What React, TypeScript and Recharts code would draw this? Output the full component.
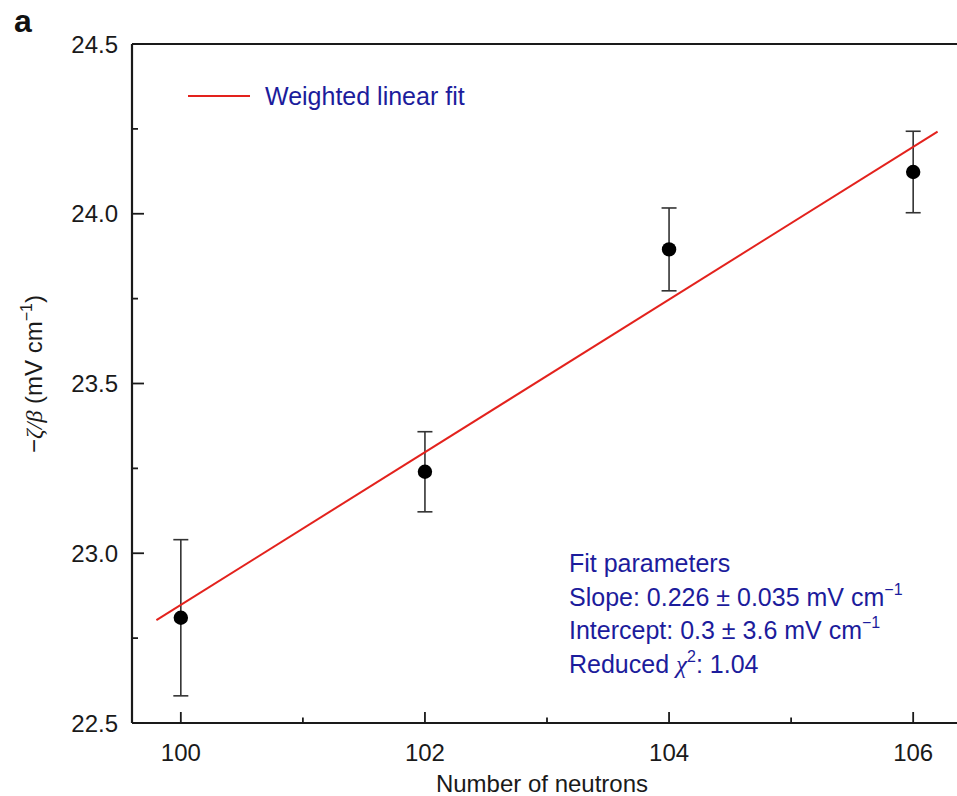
import React from 'react';
import { ComposedChart, Scatter, ErrorBar, XAxis, YAxis, ReferenceLine } from 'recharts';

// measured points
const neutrons = [100, 102, 104, 106];
const zetaOverBeta = [22.81, 23.24, 23.895, 24.123];
const errors = [0.23, 0.118, 0.122, 0.12];

// weighted linear fit, end points
const fitX = [99.8, 106.2];
const fitY = [22.803, 24.242];

const xTicks = [100, 101, 102, 103, 104, 105, 106];
const yTicks = [22.5, 22.75, 23, 23.25, 23.5, 23.75, 24, 24.25, 24.5];

const points = neutrons.map((n, i) => ({ x: n, y: zetaOverBeta[i], err: errors[i] }));
const fitLine = fitX.map((x, i) => ({ x, y: fitY[i] }));

const FONT = '"Liberation Sans", Arial, Helvetica, sans-serif';
const AXIS = '#1a1a1a';
const BLUE = '#1c1c9c';
const RED = '#e3221d';

const XTick = (props: any) => {
  const { x, y, payload } = props;
  const major = payload.value % 2 === 0;
  return (
    <g>
      <line x1={x} x2={x} y1={y} y2={y - (major ? 11 : 5.5)} stroke={AXIS} strokeWidth={1.8} />
      {major && (
        <text x={x} y={y + 38} textAnchor="middle" fontSize={24} fontFamily={FONT} fill={AXIS}>
          {payload.value}
        </text>
      )}
    </g>
  );
};

const YTick = (props: any) => {
  const { x, y, payload } = props;
  const v = payload.value;
  const major = Math.abs(v * 2 - Math.round(v * 2)) < 1e-6;
  return (
    <g>
      <line x1={x} x2={x + (major ? 12 : 6)} y1={y} y2={y} stroke={AXIS} strokeWidth={1.8} />
      {major && (
        <text x={x - 14} y={y + 8.5} textAnchor="end" fontSize={24} fontFamily={FONT} fill={AXIS}>
          {v.toFixed(1)}
        </text>
      )}
    </g>
  );
};

const Dot = (props: any) => <circle cx={props.cx} cy={props.cy} r={7.2} fill="#000" />;
const NoDot = () => <g />;

const App: React.FC = () => {
  return (
    <div style={{ position: 'absolute', left: 0, top: 0, width: 957, height: 796, overflow: 'hidden', background: '#fff' }}>
      <ComposedChart width={972} height={796} margin={{ top: 44, right: 10, bottom: 72, left: 131 }}>
        <XAxis
          type="number"
          dataKey="x"
          domain={[99.6, 106.4]}
          ticks={xTicks}
          interval={0}
          height={1}
          tickSize={0}
          tickMargin={0}
          tickLine={false}
          tick={<XTick />}
          axisLine={{ stroke: AXIS, strokeWidth: 2.2 }}
          allowDataOverflow
        />
        <YAxis
          type="number"
          dataKey="y"
          domain={[22.5, 24.5]}
          ticks={yTicks}
          interval={0}
          width={1}
          tickSize={0}
          tickMargin={0}
          tickLine={false}
          tick={<YTick />}
          axisLine={{ stroke: AXIS, strokeWidth: 2.2 }}
          allowDataOverflow
        />
        <ReferenceLine y={24.5} stroke={AXIS} strokeWidth={2.2} />

        <Scatter
          data={fitLine}
          line={{ stroke: RED, strokeWidth: 2 }}
          shape={<NoDot />}
          isAnimationActive={false}
        />
        <Scatter data={points} shape={<Dot />} isAnimationActive={false}>
          <ErrorBar dataKey="err" direction="y" width={7.5} stroke="#333" strokeWidth={1.6} />
        </Scatter>

        {/* panel letter */}
        <text x={14} y={32} fontSize={32} fontWeight="bold" fontFamily={FONT} fill="#111">a</text>

        {/* legend */}
        <line x1={188} x2={250} y1={96} y2={96} stroke={RED} strokeWidth={2} />
        <text x={265} y={105} fontSize={25} fontFamily={FONT} fill={BLUE}>Weighted linear fit</text>

        {/* fit parameters */}
        <g fontFamily={FONT} fontSize={25} fill={BLUE}>
          <text x={569} y={572}>Fit parameters</text>
          <text x={569} y={605.5}>
            Slope: 0.226 ± 0.035 mV cm<tspan dy={-11} fontSize={16}>−1</tspan>
          </text>
          <text x={569} y={639}>
            Intercept: 0.3 ± 3.6 mV cm<tspan dy={-11} fontSize={16}>−1</tspan>
          </text>
          <text x={569} y={673}>
            Reduced <tspan fontFamily='"Liberation Serif", serif' fontStyle="italic">χ</tspan>
            <tspan dy={-11} fontSize={16}>2</tspan>
            <tspan dy={11}>: 1.04</tspan>
          </text>
        </g>

        {/* axis titles */}
        <text x={542} y={792} textAnchor="middle" fontSize={24} fontFamily={FONT} fill={AXIS}>
          Number of neutrons
        </text>
        <text transform="translate(42,374) rotate(-90)" textAnchor="middle" fontSize={24} fontFamily={FONT} fill={AXIS}>
          −<tspan fontFamily='"Liberation Serif", serif' fontStyle="italic">ζ/β</tspan> (mV cm
          <tspan dy={-10} fontSize={16}>−1</tspan>
          <tspan dy={10}>)</tspan>
        </text>
      </ComposedChart>
    </div>
  );
};

export default App;
